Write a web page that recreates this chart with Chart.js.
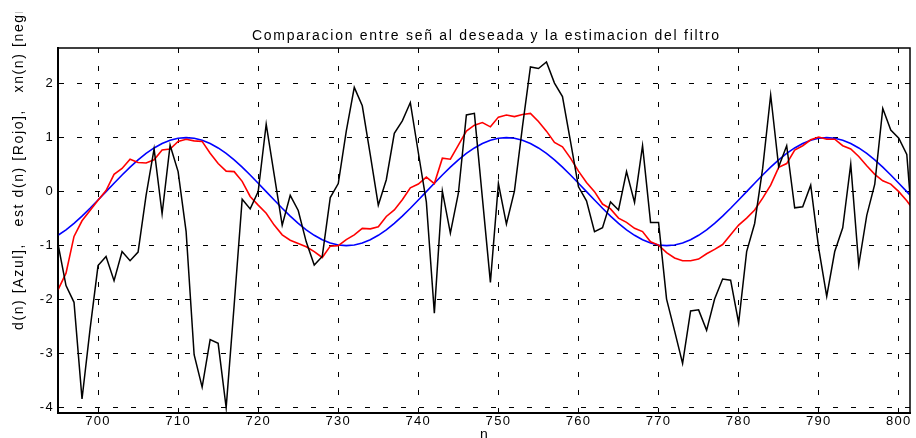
<!DOCTYPE html>
<html>
<head>
<meta charset="utf-8">
<script src="https://cdn.jsdelivr.net/npm/chart.js@4/dist/chart.umd.min.js"></script>
<style>
  html, body { margin:0; padding:0; background:#fff; }
  #wrap { width:916px; height:438px; }
</style>
</head>
<body>
<div id="wrap"><canvas id="c" width="916" height="438"></canvas></div>
<script>
// ─── Data ────────────────────────────────────────────────────────────────────

const nStart = 695;

// xn(n) – noisy input, black
const xnBlack = [
  -0.97,-1.74,-2.05,-3.84,-2.55,-1.37,-1.20,-1.65,-1.11,-1.28,
  -1.12,-0.07, 0.79,-0.41, 0.86, 0.37,-0.74,-3.02,-3.62,-2.74,
  -2.81,-4.00,-2.10,-0.14,-0.32, 0.00, 1.25, 0.31,-0.62,-0.07,
  -0.35,-0.93,-1.36,-1.20,-0.11, 0.15, 1.12, 1.93, 1.59, 0.68,
  -0.25, 0.22, 1.08, 1.31, 1.65, 0.72,-0.19,-2.25, 0.01,-0.77,
  -0.03, 1.42, 1.45,-0.12,-1.68, 0.15,-0.60, 0.01, 1.20, 2.31,
   2.28, 2.40, 2.01, 1.76, 0.93, 0.09,-0.17,-0.74,-0.67,-0.19,
  -0.34, 0.37,-0.20, 0.85,-0.57,-0.57,-1.99,-2.58,-3.18,-2.21,
  -2.19,-2.57,-1.99,-1.62,-1.64,-2.43,-1.11,-0.59, 0.43, 1.79,
   0.46, 0.85,-0.30,-0.28, 0.12,-1.05,-1.94,-1.11,-0.67, 0.51,
  -1.36,-0.44, 0.14, 1.54, 1.14, 0.99, 0.69,-1.20
];

// est d(n) – filter output, red
const estRed = [
  -1.82,-1.51,-0.83,-0.54,-0.35,-0.16, 0.02, 0.32, 0.43, 0.60,
   0.54, 0.53, 0.59, 0.77, 0.79, 0.93, 0.97, 0.94, 0.93, 0.71,
   0.52, 0.38, 0.37, 0.19,-0.09,-0.25,-0.40,-0.62,-0.80,-0.90,
  -0.96,-1.02,-1.11,-1.22,-1.01,-1.00,-0.89,-0.80,-0.68,-0.69,
  -0.65,-0.46,-0.34,-0.15, 0.07, 0.14, 0.27, 0.15, 0.62, 0.60,
   0.86, 1.12, 1.23, 1.28, 1.20, 1.38, 1.42, 1.39, 1.43, 1.45,
   1.30, 1.12, 0.91, 0.83, 0.62, 0.38, 0.17, 0.00,-0.23,-0.32,
  -0.49,-0.57,-0.68,-0.74,-0.93,-0.99,-1.13,-1.23,-1.28,-1.28,
  -1.25,-1.15,-1.07,-0.98,-0.80,-0.62,-0.49,-0.34,-0.12, 0.12,
   0.45, 0.52, 0.77, 0.85, 0.96, 1.01, 0.97, 0.97, 0.85, 0.79,
   0.65, 0.48, 0.32, 0.20, 0.14, 0.00,-0.17,-0.37
];

// d(n) – desired signal, blue
const dBlue = [
  -0.809,-0.707,-0.588,-0.454,-0.309,-0.156, 0, 0.156, 0.309, 0.454,
   0.588, 0.707, 0.809, 0.891, 0.951, 0.988, 1,
   0.988, 0.951, 0.891, 0.809, 0.707, 0.588, 0.454, 0.309, 0.156, 0,
  -0.156,-0.309,-0.454,-0.588,-0.707,-0.809,-0.891,-0.951,-0.988,-1,
  -0.988,-0.951,-0.891,-0.809,-0.707,-0.588,-0.454,-0.309,-0.156, 0,
   0.156, 0.309, 0.454, 0.588, 0.707, 0.809, 0.891, 0.951, 0.988, 1,
   0.988, 0.951, 0.891, 0.809, 0.707, 0.588, 0.454, 0.309, 0.156, 0,
  -0.156,-0.309,-0.454,-0.588,-0.707,-0.809,-0.891,-0.951,-0.988,-1,
  -0.988,-0.951,-0.891,-0.809,-0.707,-0.588,-0.454,-0.309,-0.156, 0,
   0.156, 0.309, 0.454, 0.588, 0.707, 0.809, 0.891, 0.951, 0.988, 1,
   0.988, 0.951, 0.891, 0.809, 0.707, 0.588, 0.454, 0.309, 0.156, 0, -0.156
];

const xTicks = [700, 710, 720, 730, 740, 750, 760, 770, 780, 790, 800];
const yTicks = [-4, -3, -2, -1, 0, 1, 2];

const titleText  = 'Comparacion entre señ al deseada y la estimacion del filtro';
const yLabelText = 'd(n) [Azul],   est d(n) [Rojo],   xn(n) [negro]';
const xLabelText = 'n';

// ─── Chart ───────────────────────────────────────────────────────────────────

const FONT = '"Liberation Sans", Arial, Helvetica, sans-serif';
const nVals = xnBlack.map((_, i) => nStart + i);
const pts = arr => arr.map((v, i) => ({ x: nVals[i], y: v }));

// MATLAB-ish stretched text: spread letters so the string spans `target` px
function spreadText(ctx, txt, target) {
  ctx.letterSpacing = '0px';
  const w = ctx.measureText(txt).width;
  ctx.letterSpacing = ((target - w) / txt.length).toFixed(2) + 'px';
}

const decor = {
  id: 'decor',
  beforeDraw(chart) { chart.ctx.letterSpacing = '1.3px'; },
  afterDraw(chart) {
    const { ctx, chartArea: a } = chart;
    ctx.save();
    ctx.strokeStyle = '#000';
    ctx.lineWidth = 1.5;
    ctx.setLineDash([]);
    ctx.strokeRect(a.left, a.top, a.right - a.left, a.bottom - a.top);

    ctx.fillStyle = '#000';
    ctx.textAlign = 'left';
    ctx.textBaseline = 'alphabetic';

    // title
    ctx.font = '14px ' + FONT;
    spreadText(ctx, titleText, 469);
    ctx.fillText(titleText, 252, 39.5);

    // x label (clipped by canvas bottom, as in the reference)
    ctx.letterSpacing = '0px';
    ctx.textAlign = 'center';
    ctx.fillText(xLabelText, (a.left + a.right) / 2, 439);

    // y label, rotated, anchored at its start; runs off the top like the original
    ctx.beginPath();
    ctx.rect(0, 12, 56, 420);
    ctx.clip();
    ctx.textAlign = 'left';
    ctx.translate(23, 330);
    ctx.rotate(-Math.PI / 2);
    spreadText(ctx, 'd(n) [Azul],', 87);
    ctx.fillText(yLabelText, 0, 0);
    ctx.restore();
  }
};

new Chart(document.getElementById('c'), {
  type: 'line',
  data: {
    datasets: [
      { label: 'xn(n)',    data: pts(xnBlack), borderColor: '#000000', borderWidth: 1.5 },
      { label: 'est d(n)', data: pts(estRed),  borderColor: '#ff0000', borderWidth: 1.6 },
      { label: 'd(n)',     data: pts(dBlue),   borderColor: '#0000ff', borderWidth: 1.6 },
    ]
  },
  options: {
    responsive: false,
    animation: false,
    devicePixelRatio: 1,
    layout: { padding: { top: 48, right: 6, left: 0, bottom: 0 } },
    elements: { point: { radius: 0 }, line: { tension: 0 } },
    plugins: { legend: { display: false }, tooltip: { enabled: false }, title: { display: false } },
    scales: {
      x: {
        type: 'linear', min: 695, max: 801.4,
        afterBuildTicks: s => { s.ticks = xTicks.map(v => ({ value: v })); },
        afterFit: s => { s.height = 25; },
        ticks: { color: '#000', font: { size: 13, family: FONT }, padding: 1, maxRotation: 0 },
        grid: { color: '#000', lineWidth: 1, drawTicks: false },
        border: { display: true, color: '#000', width: 2, dash: [5, 13] }
      },
      y: {
        type: 'linear', min: -4.10, max: 2.66,
        afterBuildTicks: s => { s.ticks = yTicks.map(v => ({ value: v })); },
        afterFit: s => { s.width = 58; },
        ticks: { color: '#000', font: { size: 13, family: FONT }, padding: 4 },
        grid: { color: '#000', lineWidth: 1, drawTicks: false },
        border: { display: true, color: '#000', width: 2, dash: [5, 13] }
      }
    }
  },
  plugins: [decor]
});
</script>
</body>
</html>
